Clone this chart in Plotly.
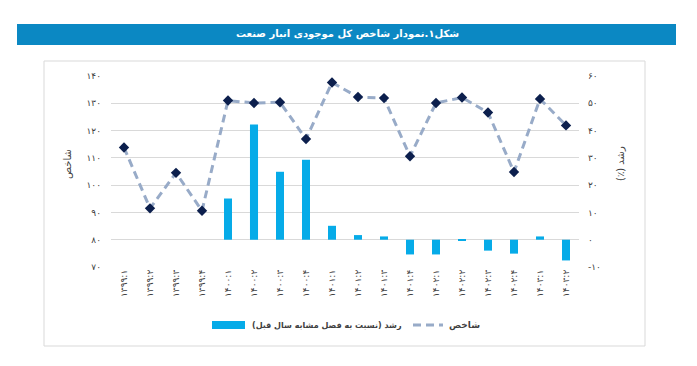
import plotly.graph_objects as go

FA = str.maketrans("0123456789", "۰۱۲۳۴۵۶۷۸۹")
RLM = "\u200f"

categories = ["1399:1", "1399:2", "1399:3", "1399:4",
              "1400:1", "1400:2", "1400:3", "1400:4",
              "1401:1", "1401:2", "1401:3", "1401:4",
              "1402:1", "1402:2", "1402:3", "1402:4",
              "1403:1", "1403:2"]
index_values = [113.8, 91.5, 104.5, 90.6, 131.0, 130.1, 130.4, 116.9, 137.6,
                132.3, 131.9, 110.6, 130.1, 132.1, 126.6, 104.8, 131.6, 121.9]
growth_values = [None, None, None, None, 15.1, 42.2, 24.9, 29.3, 5.1,
                 1.7, 1.2, -5.4, -5.4, -0.3, -4.0, -5.1, 1.2, -7.6]
left_ticks = [70, 80, 90, 100, 110, 120, 130, 140]
right_ticks = [-10, 0, 10, 20, 30, 40, 50, 60]

title_text = "شکل۱.نمودار شاخص کل موجودی انبار صنعت"
left_title = "شاخص"
right_title = "رشد (٪)"
bar_name = "رشد (نسبت به فصل مشابه سال قبل)"
line_name = "شاخص"


def rtl(s):
    return RLM + s + RLM


cat_labels = [c.translate(FA) for c in categories]
FONT = "DejaVu Sans"

# page body has an 8px margin; all target coordinates are shifted by OFF
OFF = 8
W, H = 697 - OFF, 366 - OFF
PL, PR, PT, PB = 111, 579, 76, 267          # plot area in screen pixels
ML, MR, MT, MB = PL - OFF, W - (PR - OFF), PT - OFF, H - (PB - OFF)
PW, PH = W - ML - MR, H - MT - MB


def px(x):
    return (x - OFF - ML) / PW


def py(y):
    return (H - MB - (y - OFF)) / PH


BAR_COLOR = "#06abe8"
LINE_COLOR = "#98abc8"
MARK_COLOR = "#0c1f4d"
TXT = "#404040"
DASH = "8px,5px"

fig = go.Figure()
fig.add_trace(go.Bar(
    x=cat_labels, y=growth_values, name=bar_name, yaxis="y",
    marker=dict(color=BAR_COLOR, line=dict(width=0)), width=0.31,
))
fig.add_trace(go.Scatter(
    x=cat_labels, y=index_values, name=line_name, yaxis="y2",
    mode="lines+markers",
    line=dict(color=LINE_COLOR, width=3, dash=DASH),
    marker=dict(symbol="diamond", size=8, color=MARK_COLOR),
))

fig.update_layout(
    width=W, height=H,
    margin=dict(l=ML, r=MR, t=MT, b=MB),
    paper_bgcolor="white", plot_bgcolor="white",
    showlegend=False,
    font=dict(family=FONT, color=TXT, size=9),
    xaxis=dict(
        type="category", range=[-0.5, len(categories) - 0.5],
        tickangle=-90, tickfont=dict(size=9, color=TXT),
        showgrid=False, showline=False, ticks="", zeroline=False,
    ),
    yaxis=dict(
        side="right", range=[-10, 60], tickvals=right_ticks,
        ticktext=[str(v).translate(FA) for v in right_ticks],
        showgrid=True, gridcolor="#d9d9d9", gridwidth=1,
        zeroline=False, showline=False, ticks="",
        tickfont=dict(size=9, color=TXT), ticklabelstandoff=8,
    ),
    yaxis2=dict(
        side="left", overlaying="y", range=[70, 140], tickvals=left_ticks,
        ticktext=[str(v).translate(FA) for v in left_ticks],
        showgrid=False, zeroline=False, showline=False, ticks="",
        tickfont=dict(size=9, color=TXT), ticklabelstandoff=9,
    ),
)

shapes = [
    dict(type="rect", xref="paper", yref="paper", x0=px(44), x1=px(645),
         y0=py(346), y1=py(61), line=dict(color="#d9d9d9", width=1),
         fillcolor="rgba(0,0,0,0)", layer="below"),
    dict(type="rect", xref="paper", yref="paper", x0=px(17), x1=px(676),
         y0=py(45), y1=py(24), line=dict(width=0), fillcolor="#0b88c3"),
    dict(type="rect", xref="paper", yref="paper", x0=px(212), x1=px(245),
         y0=py(329), y1=py(321), line=dict(width=0), fillcolor=BAR_COLOR),
    dict(type="line", xref="paper", yref="paper", x0=px(413), x1=px(443),
         y0=py(325), y1=py(325), line=dict(color=LINE_COLOR, width=3, dash=DASH)),
]
fig.update_layout(shapes=shapes)

annotations = [
    dict(text="<b>" + rtl(title_text) + "</b>", xref="paper", yref="paper",
         x=px(347), y=py(34.5), showarrow=False, xanchor="center", yanchor="middle",
         font=dict(family=FONT, size=10, color="white")),
    dict(text=rtl(left_title), xref="paper", yref="paper", x=px(67), y=py(164),
         showarrow=False, textangle=-90, xanchor="center", yanchor="middle",
         font=dict(family=FONT, size=10, color=TXT)),
    dict(text=rtl(right_title), xref="paper", yref="paper", x=px(620), y=py(164),
         showarrow=False, textangle=-90, xanchor="center", yanchor="middle",
         font=dict(family=FONT, size=10, color=TXT)),
    dict(text="<b>" + rtl(bar_name) + "</b>", xref="paper", yref="paper",
         x=px(250), y=py(325), showarrow=False, xanchor="left", yanchor="middle",
         font=dict(family=FONT, size=8, color=TXT)),
    dict(text="<b>" + rtl(line_name) + "</b>", xref="paper", yref="paper",
         x=px(447), y=py(325), showarrow=False, xanchor="left", yanchor="middle",
         font=dict(family=FONT, size=9, color=TXT)),
]
fig.update_layout(annotations=annotations)

# legend diamond marker, placed on a hidden full-size 0..1 axis pair
fig.add_trace(go.Scatter(
    x=[px(428)], y=[py(325)], xaxis="x3", yaxis="y3", mode="markers",
    marker=dict(symbol="diamond", size=8, color=MARK_COLOR), hoverinfo="skip",
))
fig.update_layout(
    xaxis3=dict(range=[0, 1], domain=[0, 1], anchor="y3", overlaying="x",
                visible=False, fixedrange=True),
    yaxis3=dict(range=[0, 1], domain=[0, 1], anchor="x3", overlaying="y",
                visible=False, fixedrange=True),
)

fig.write_html("out.html")
